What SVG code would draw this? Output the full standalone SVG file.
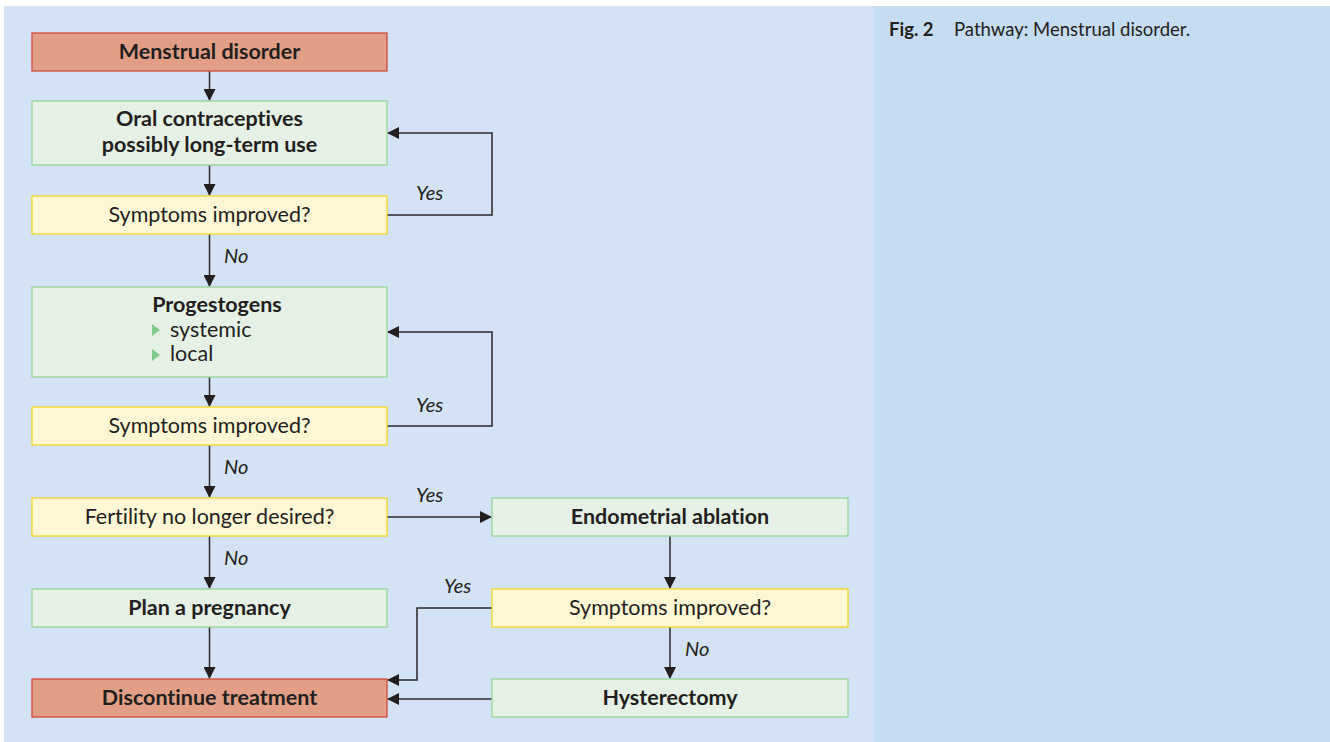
<svg xmlns="http://www.w3.org/2000/svg" width="1330" height="742" viewBox="0 0 1330 742">
<style>
text{font-family:Lato,"Liberation Sans",sans-serif;fill:#231f20;font-variant-ligatures:none}
.t{font-size:21.5px;text-anchor:middle}
.b{font-weight:bold}
.lab{font-size:20px;font-style:italic}
.red{fill:#e29f85;stroke:#d04a3a;stroke-width:1.3}
.grn{fill:#e5f1e4;stroke:#98d49a;stroke-width:1.3}
.yel{fill:#fff6d3;stroke:#f5d726;stroke-width:1.3}
.c{fill:none;stroke:#2a2a2a;stroke-width:1.5}
</style>
<defs>
<marker id="ah" markerWidth="12" markerHeight="12" refX="11" refY="6" orient="auto" markerUnits="userSpaceOnUse">
<path d="M0,0 L12,6 L0,12 Z" fill="#231f20"/>
</marker>
</defs>
<rect width="1330" height="742" fill="#ffffff"/>
<rect x="4" y="6" width="870" height="736" fill="#d3e2f4"/>
<rect x="874" y="6" width="456" height="736" fill="#c5dcf2"/>
<g id="caption">
<text x="889" y="36" style="font-size:18.5px" class="b">Fig. 2</text>
<text x="954" y="36" style="font-size:18.5px">Pathway: Menstrual disorder.</text>
</g>
<g id="connectors">
<line class="c" x1="209.5" y1="71" x2="209.5" y2="100" marker-end="url(#ah)"/>
<line class="c" x1="209.5" y1="165" x2="209.5" y2="195" marker-end="url(#ah)"/>
<line class="c" x1="209.5" y1="234" x2="209.5" y2="286" marker-end="url(#ah)"/>
<polyline class="c" points="387,215 492,215 492,133 388,133" marker-end="url(#ah)"/>
<line class="c" x1="209.5" y1="377" x2="209.5" y2="406" marker-end="url(#ah)"/>
<polyline class="c" points="387,426 492,426 492,332 388,332" marker-end="url(#ah)"/>
<line class="c" x1="209.5" y1="445" x2="209.5" y2="497" marker-end="url(#ah)"/>
<line class="c" x1="387" y1="517" x2="491" y2="517" marker-end="url(#ah)"/>
<line class="c" x1="209.5" y1="536" x2="209.5" y2="588" marker-end="url(#ah)"/>
<line class="c" x1="209.5" y1="627" x2="209.5" y2="678" marker-end="url(#ah)"/>
<line class="c" x1="670" y1="536" x2="670" y2="588" marker-end="url(#ah)"/>
<line class="c" x1="670" y1="627" x2="670" y2="678" marker-end="url(#ah)"/>
<polyline class="c" points="492,608 417,608 417,680 388,680" marker-end="url(#ah)"/>
<line class="c" x1="492" y1="699" x2="388" y2="699" marker-end="url(#ah)"/>
<text class="lab" x="416" y="200">Yes</text>
<text class="lab" x="224" y="263">No</text>
<text class="lab" x="416" y="412">Yes</text>
<text class="lab" x="224" y="474">No</text>
<text class="lab" x="416" y="502">Yes</text>
<text class="lab" x="224" y="565">No</text>
<text class="lab" x="444" y="593">Yes</text>
<text class="lab" x="685" y="656">No</text>
</g>
<g id="n1"><rect class="red" x="32" y="33" width="355" height="38"/><text class="t b" x="209.5" y="59">Menstrual disorder</text></g>
<g id="n2"><rect class="grn" x="32" y="101" width="355" height="64"/><text class="t b" x="209.5" y="126">Oral contraceptives</text><text class="t b" x="209.5" y="152">possibly long-term use</text></g>
<g id="n3"><rect class="yel" x="32" y="196" width="355" height="38"/><text class="t" x="209.5" y="222">Symptoms improved?</text></g>
<g id="n4"><rect class="grn" x="32" y="287" width="355" height="90"/><text class="t b" x="217" y="312">Progestogens</text>
<path d="M152,324 L160,330 L152,336 Z" fill="#7fc98a"/><text style="font-size:21.5px" x="170" y="337">systemic</text>
<path d="M152,349 L160,355 L152,361 Z" fill="#7fc98a"/><text style="font-size:21.5px" x="170" y="361">local</text></g>
<g id="n5"><rect class="yel" x="32" y="407" width="355" height="38"/><text class="t" x="209.5" y="433">Symptoms improved?</text></g>
<g id="n6"><rect class="yel" x="32" y="498" width="355" height="38"/><text class="t" x="209.5" y="524">Fertility no longer desired?</text></g>
<g id="n7"><rect class="grn" x="32" y="589" width="355" height="38"/><text class="t b" x="209.5" y="615">Plan a pregnancy</text></g>
<g id="n8"><rect class="red" x="32" y="679" width="355" height="38"/><text class="t b" x="209.5" y="705">Discontinue treatment</text></g>
<g id="n9"><rect class="grn" x="492" y="498" width="356" height="38"/><text class="t b" x="670" y="524">Endometrial ablation</text></g>
<g id="n10"><rect class="yel" x="492" y="589" width="356" height="38"/><text class="t" x="670" y="615">Symptoms improved?</text></g>
<g id="n11"><rect class="grn" x="492" y="679" width="356" height="38"/><text class="t b" x="670" y="705">Hysterectomy</text></g>
</svg>
